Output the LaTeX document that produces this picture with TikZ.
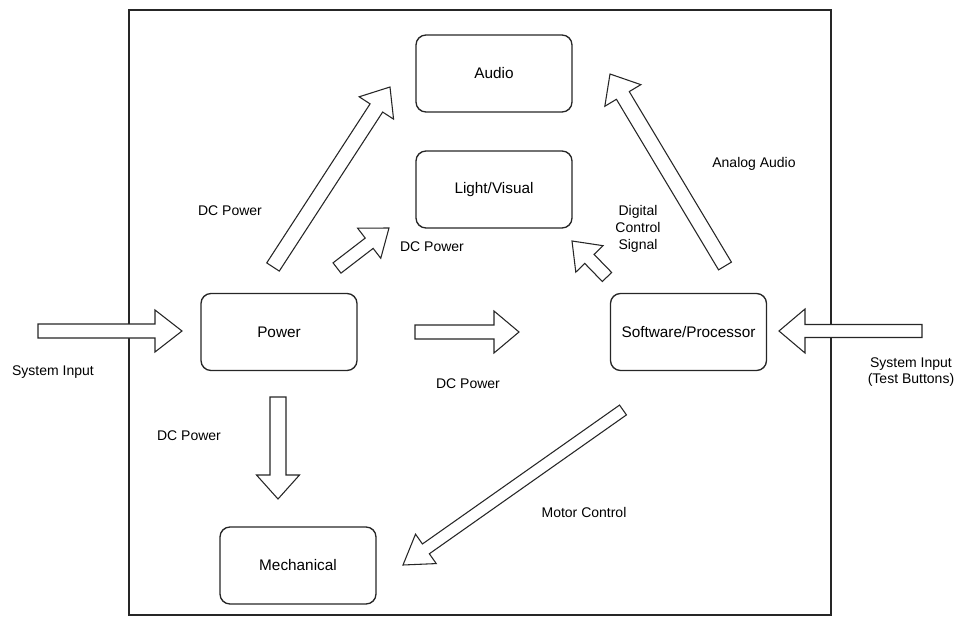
\documentclass[tikz,border=0pt]{standalone}
\usepackage{fontspec}
\setmainfont{Liberation Sans}
\usetikzlibrary{calc}
\tikzset{
  box/.style={draw=black!85, line width=1pt, rounded corners=7.5pt, minimum width=117pt, minimum height=57.75pt, inner sep=0pt, font=\fontsize{11.5}{13.5}\selectfont},
  lbl/.style={font=\fontsize{10.5}{12.5}\selectfont, align=center, inner sep=0pt},
  arr/.style={draw=black!85, line width=0.8pt, fill=white, line join=miter},
  frame/.style={draw=black!85, line width=0.9pt}
}
% #1 tail, #2 tip, #3 shaft half width, #4 head half width, #5 head length (all in px)
\newcommand{\harrow}[5]{%
  \coordinate (hb) at ($(#2)!{#5*0.75pt}!(#1)$);
  \draw[arr] ($(#1)!{#3*0.75pt}!90:(#2)$) -- ($(hb)!{#3*0.75pt}!90:(#2)$)
    -- ($(hb)!{#4*0.75pt}!90:(#2)$) -- (#2)
    -- ($(hb)!{#4*0.75pt}!-90:(#2)$) -- ($(hb)!{#3*0.75pt}!-90:(#2)$)
    -- ($(#1)!{#3*0.75pt}!-90:(#2)$) -- cycle;
}
\begin{document}
\begin{tikzpicture}[x=0.75pt,y=-0.75pt]
\useasboundingbox (0,0) rectangle (958,617);
\draw[frame] (129,10) rectangle (831,615);

% boxes
\node[box] (audio) at (494,73.5) {Audio};
\node[box] (light) at (494,189.5) {Light/Visual};
\node[box] (power) at (279,332) {Power};
\node[box] (soft) at (688.5,332) {Software/Processor};
\node[box] (mech) at (298,565.5) {Mechanical};

% arrow end points
\coordinate (inL) at (38,331);
\coordinate (inLtip) at (182,331);
\coordinate (inR) at (922,331);
\coordinate (inRtip) at (779,331);
\coordinate (pwrS) at (415,332);
\coordinate (pwrStip) at (519,332);
\coordinate (pwrM) at (278,397);
\coordinate (pwrMtip) at (278,499);
\coordinate (pwrA) at (273,267);
\coordinate (pwrAtip) at (390,87);
\coordinate (pwrL) at (337,268);
\coordinate (pwrLtip) at (389,228);
\coordinate (swA) at (725,266);
\coordinate (swAtip) at (610,74);
\coordinate (swL) at (607,277);
\coordinate (swLtip) at (572,241);
\coordinate (swM) at (623,410);
\coordinate (swMtip) at (403,565);

\harrow{inL}{inLtip}{7}{21}{27}
\harrow{inR}{inRtip}{6.5}{22}{26}
\harrow{pwrS}{pwrStip}{7}{21}{25}
\harrow{pwrM}{pwrMtip}{8}{21.5}{24}
\harrow{pwrA}{pwrAtip}{7.5}{20.5}{25}
\harrow{pwrL}{pwrLtip}{6.5}{19}{25}
\harrow{swA}{swAtip}{7.5}{21}{25}
\harrow{swL}{swLtip}{6.5}{19}{25}
\harrow{swM}{swMtip}{6}{18}{28}

% labels
\node[lbl] (t1) at (53,372) {System Input};
\node[lbl] (t2) at (230,211) {DC Power};
\node[lbl] (t3) at (432,247) {DC Power};
\node[lbl] (t4) at (638,229) {Digital\\Control\\Signal};
\node[lbl] (t5) at (754,164) {Analog Audio};
\node[lbl] (t6) at (468,384) {DC Power};
\node[lbl] (t7) at (911,372) {System Input\\(Test Buttons)};
\node[lbl] (t8) at (189,436) {DC Power};
\node[lbl] (t9) at (584,512) {Motor Control};
\end{tikzpicture}
\end{document}
